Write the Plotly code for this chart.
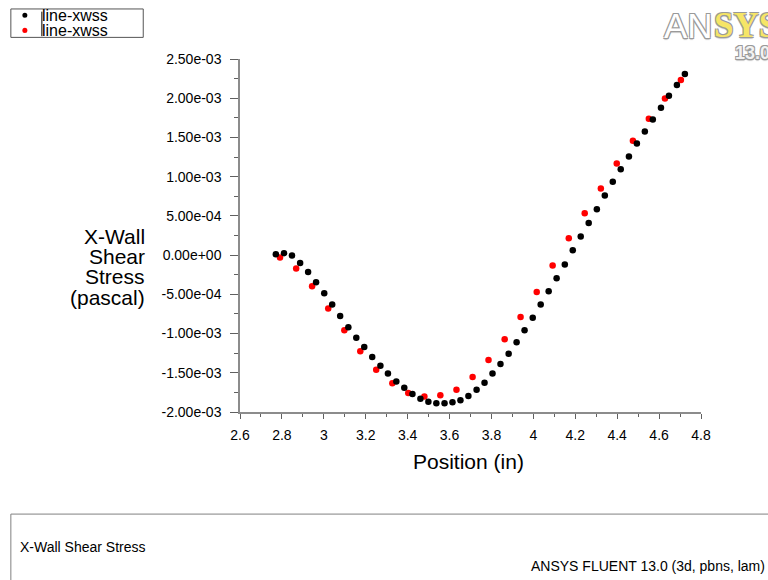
import plotly.graph_objects as go

# ---------------- data ----------------
black_x = [2.771, 2.810, 2.848, 2.887, 2.925, 2.963, 3.002, 3.040, 3.078, 3.117,
           3.155, 3.193, 3.231, 3.270, 3.306, 3.346, 3.384, 3.423, 3.461, 3.499,
           3.537, 3.576, 3.614, 3.652, 3.690, 3.729, 3.767, 3.805, 3.843, 3.882,
           3.920, 3.958, 3.997, 4.035, 4.073, 4.111, 4.150, 4.188, 4.226, 4.264,
           4.303, 4.341, 4.379, 4.417, 4.456, 4.494, 4.532, 4.570, 4.609, 4.647,
           4.685, 4.723]
black_y_e3 = [0.011, 0.024, -0.006, -0.100, -0.214, -0.346, -0.486, -0.630, -0.776, -0.920,
              -1.052, -1.171, -1.300, -1.410, -1.510, -1.610, -1.690, -1.770, -1.830, -1.870,
              -1.890, -1.890, -1.876, -1.850, -1.796, -1.715, -1.626, -1.510, -1.388, -1.256,
              -1.111, -0.958, -0.797, -0.631, -0.461, -0.295, -0.121, 0.062, 0.236, 0.410,
              0.585, 0.760, 0.934, 1.096, 1.257, 1.422, 1.575, 1.728, 1.880, 2.030,
              2.170, 2.310]
red_x = [2.791, 2.868, 2.944, 3.021, 3.098, 3.174, 3.250, 3.327, 3.403, 3.480,
         3.556, 3.633, 3.710, 3.786, 3.863, 3.939, 4.016, 4.092, 4.169, 4.245,
         4.322, 4.398, 4.475, 4.551, 4.628, 4.704]
red_y_e3 = [-0.032, -0.172, -0.397, -0.682, -0.958, -1.226, -1.460, -1.634, -1.758, -1.804,
            -1.787, -1.715, -1.554, -1.337, -1.073, -0.788, -0.469, -0.134, 0.215, 0.534,
            0.848, 1.167, 1.457, 1.737, 1.996, 2.231]
black_y = [v * 1e-3 for v in black_y_e3]
red_y = [v * 1e-3 for v in red_y_e3]

y_tickvals = [-2.0e-3, -1.5e-3, -1.0e-3, -0.5e-3, 0.0, 0.5e-3, 1.0e-3, 1.5e-3, 2.0e-3, 2.5e-3]
y_ticktext = ["-2.00e-03", "-1.50e-03", "-1.00e-03", "-5.00e-04", "0.00e+00",
              "5.00e-04", "1.00e-03", "1.50e-03", "2.00e-03", "2.50e-03"]
y_minorvals = [-1.75e-3, -1.25e-3, -0.75e-3, -0.25e-3, 0.25e-3, 0.75e-3, 1.25e-3, 1.75e-3, 2.25e-3]
x_tickvals = [2.6, 2.8, 3.0, 3.2, 3.4, 3.6, 3.8, 4.0, 4.2, 4.4, 4.6, 4.8]
x_ticktext = ["2.6", "2.8", "3", "3.2", "3.4", "3.6", "3.8", "4", "4.2", "4.4", "4.6", "4.8"]
series_names = ["line-xwss", "line-xwss"]

# ---------------- layout geometry (pixels) ----------------
W, H = 768, 580
PL, PR, PT, PB = 240, 700.7, 59.3, 412.0


def px(x):
    return (x - PL) / (PR - PL)


def py(y):
    return (PB - y) / (PB - PT)


FONT = "Liberation Sans, Arial, sans-serif"

fig = go.Figure()
fig.add_trace(go.Scatter(x=red_x, y=red_y, mode="markers", name=series_names[1],
                         marker=dict(color="#ff0000", size=6.5, line=dict(width=0))))
fig.add_trace(go.Scatter(x=black_x, y=black_y, mode="markers", name=series_names[0],
                         marker=dict(color="#000000", size=6.5, line=dict(width=0))))

fig.update_layout(
    width=W, height=H,
    margin=dict(l=PL, r=W - PR, t=PT, b=H - PB, pad=0),
    paper_bgcolor="white", plot_bgcolor="white",
    showlegend=False,
    font=dict(family=FONT, color="#000000"),
)
fig.update_xaxes(
    range=[2.6, 4.8], tickmode="array", tickvals=x_tickvals, ticktext=x_ticktext,
    tickangle=0,
    showgrid=False, zeroline=False,
    showline=True, linecolor="#8c8c8c", linewidth=1.5,
    ticks="outside", ticklen=5, tickcolor="#606060", tickwidth=1,
    ticklabelstandoff=4,
    tickfont=dict(size=14, family=FONT, color="#000000"),
    minor=dict(dtick=0.1, tick0=2.6, ticks="outside", ticklen=3, tickcolor="#606060",
               showgrid=False),
)
fig.update_yaxes(
    range=[-2.0e-3, 2.5e-3], tickmode="array", tickvals=y_tickvals, ticktext=y_ticktext,
    showgrid=False, zeroline=False,
    showline=True, linecolor="#8c8c8c", linewidth=1.5,
    ticks="outside", ticklen=8, tickcolor="#606060", tickwidth=1,
    ticklabelstandoff=6,
    tickfont=dict(size=14, family=FONT, color="#000000"),
    minor=dict(tickmode="array", tickvals=y_minorvals, ticks="outside", ticklen=4,
               tickcolor="#606060", showgrid=False),
)

ann = []
# axis titles
ann.append(dict(text="Position (in)", x=px(468), y=py(461.7), xref="paper", yref="paper",
                xanchor="center", yanchor="middle", showarrow=False,
                font=dict(size=21, family=FONT, color="#000000")))
for t, yy in zip(["X-Wall", "Shear", "Stress", "(pascal)"], [236.7, 256.7, 276.7, 297.3]):
    ann.append(dict(text=t, x=px(147), y=py(yy), xref="paper", yref="paper",
                    xanchor="right", yanchor="middle", showarrow=False,
                    font=dict(size=21, family=FONT, color="#000000")))

# legend box (manual)
shapes = []
shapes.append(dict(type="rect", xref="paper", yref="paper",
                   x0=px(11), x1=px(143.3), y0=py(9.3), y1=py(37.7),
                   line=dict(color="#555555", width=1), fillcolor="white"))
for cy, col in [(15.7, "#000000"), (30.7, "#ff0000")]:
    shapes.append(dict(type="circle", xref="paper", yref="paper",
                       x0=px(22.5), x1=px(27.5), y0=py(cy - 2.5), y1=py(cy + 2.5),
                       line=dict(width=0), fillcolor=col))
shapes.append(dict(type="line", xref="paper", yref="paper",
                   x0=px(42), x1=px(42), y0=py(12), y1=py(36.5),
                   line=dict(color="#000000", width=1)))
for name, cy in zip(series_names, [16.0, 31.0]):
    ann.append(dict(text=name, x=px(40.5), y=py(cy), xref="paper", yref="paper",
                    xanchor="left", yanchor="middle", showarrow=False,
                    font=dict(size=16, family=FONT, color="#000000")))

# bottom info box
shapes.append(dict(type="rect", xref="paper", yref="paper",
                   x0=px(11), x1=px(790), y0=py(514), y1=py(600),
                   line=dict(color="#808080", width=1), fillcolor="rgba(0,0,0,0)"))
ann.append(dict(text="X-Wall Shear Stress", x=px(18.3), y=py(546.7), xref="paper", yref="paper",
                xanchor="left", yanchor="middle", showarrow=False,
                font=dict(size=14, family=FONT, color="#000000")))
ann.append(dict(text="ANSYS FLUENT 13.0 (3d, pbns, lam)", x=px(766.5), y=py(565.7),
                xref="paper", yref="paper", xanchor="right", yanchor="middle", showarrow=False,
                font=dict(size=14, family=FONT, color="#000000")))

# ANSYS logo
outline = ("1px 1px 0 #9a9a9a, -1px -1px 0 #9a9a9a, 1px -1px 0 #9a9a9a, -1px 1px 0 #9a9a9a, "
           "0 2px 1px #c8c8c8")
ann.append(dict(text="AN", x=px(662), y=py(25.5), xref="paper", yref="paper",
                xanchor="left", yanchor="middle", showarrow=False,
                font=dict(size=35, family="Liberation Sans, Arial, sans-serif",
                          color="#ffffff", shadow=outline)))
ann.append(dict(text="SYS", x=px(712), y=py(25.5), xref="paper", yref="paper",
                xanchor="left", yanchor="middle", showarrow=False,
                font=dict(size=35, family="Liberation Serif, Times New Roman, serif",
                          color="#f6e566", weight="bold", shadow=outline)))
ann.append(dict(text="13.0", x=px(732.5), y=py(53.5), xref="paper", yref="paper",
                xanchor="left", yanchor="middle", showarrow=False,
                font=dict(size=18, family="Liberation Sans, Arial, sans-serif",
                          color="#f2f2f2", weight="bold", shadow=outline)))

fig.update_layout(annotations=ann, shapes=shapes)
fig.write_html("out.html")
